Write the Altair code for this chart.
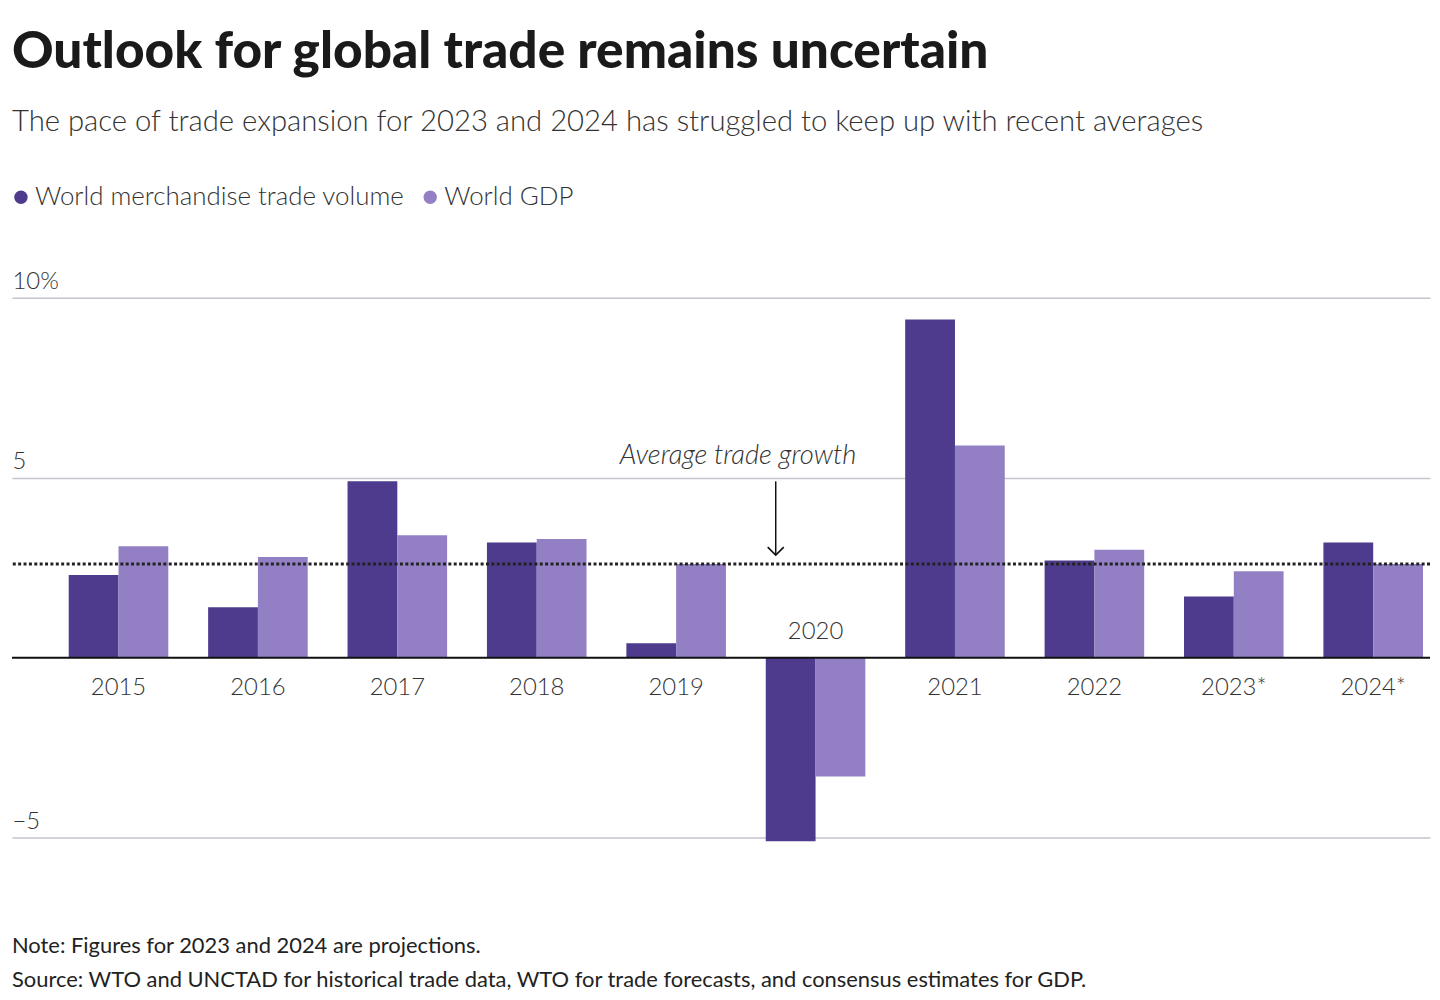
import altair as alt
import pandas as pd

# ---- data ----
years = ["2015", "2016", "2017", "2018", "2019", "2020", "2021", "2022", "2023", "2024"]
year_labels = ["2015", "2016", "2017", "2018", "2019", "2020", "2021", "2022", "2023*", "2024*"]
trade = [2.3, 1.4, 4.9, 3.2, 0.4, -5.1, 9.4, 2.7, 1.7, 3.2]
gdp = [3.1, 2.8, 3.4, 3.3, 2.6, -3.3, 5.9, 3.0, 2.4, 2.6]
series_names = ["World merchandise trade volume", "World GDP"]
series_colors = ["#4e3b8e", "#9380c4"]
avg_trade_growth = 2.6

title_text = "Outlook for global trade remains uncertain"
subtitle_text = "The pace of trade expansion for 2023 and 2024 has struggled to keep up with recent averages"
annotation_text = "Average trade growth"
note_text = "Note: Figures for 2023 and 2024 are projections."
source_text = "Source: WTO and UNCTAD for historical trade data, WTO for trade forecasts, and consensus estimates for GDP."

FONT = "Lato"
W, H = 1424, 542

rows = []
for y, t, g in zip(years, trade, gdp):
    rows.append({"year": y, "series": series_names[0], "value": t})
    rows.append({"year": y, "series": series_names[1], "value": g})
bars_df = pd.DataFrame(rows)

labels_df = pd.DataFrame({
    "year": years,
    "label": year_labels,
    "pos": [max(t, g) > 0 for t, g in zip(trade, gdp)],
})

xscale = alt.Scale(domain=years, paddingInner=0.2857, paddingOuter=0.2286, align=0.89)
yscale = alt.Scale(domain=[-5, 10], nice=False)

yaxis = alt.Axis(
    values=[-5, 5, 10], grid=True, gridColor="#c8c2cc", gridWidth=1.5,
    domain=False, ticks=False, tickSize=0, labelPadding=0,
    labelAlign="left", labelBaseline="alphabetic", labelOffset=-9,
    labelFont=FONT, labelFontSize=24, labelFontWeight=300, labelColor="#333333", title=None,
    labelExpr="datum.value == 10 ? '10%' : (datum.value < 0 ? '\u2212' + abs(datum.value) : datum.value)",
)

bars = alt.Chart(bars_df).mark_bar().encode(
    x=alt.X("year:N", scale=xscale, axis=None, sort=years),
    xOffset=alt.XOffset("series:N", sort=series_names,
                        scale=alt.Scale(domain=series_names, paddingInner=0, paddingOuter=0)),
    y=alt.Y("value:Q", scale=yscale, axis=yaxis),
    color=alt.Color("series:N", scale=alt.Scale(domain=series_names, range=series_colors),
                    legend=alt.Legend(
                        orient="none", legendX=-4, legendY=-114, direction="horizontal",
                        title=None, symbolType="circle", symbolSize=180, symbolStrokeWidth=0,
                        labelFont=FONT, labelFontSize=26, labelFontWeight=300,
                        labelColor="#333333", labelLimit=0, padding=0,
                        labelOffset=1, columnPadding=12, symbolOpacity=1)),
)

zero_df = pd.DataFrame({"v": [0]})
zero_line = alt.Chart(zero_df).mark_rule(color="#111111", strokeWidth=2).encode(
    y=alt.Y("v:Q", scale=yscale))

avg_df = pd.DataFrame({"v": [avg_trade_growth]})
avg_line = alt.Chart(avg_df).mark_rule(color="#222222", strokeWidth=3, strokeDash=[3, 2.4]).encode(
    y=alt.Y("v:Q", scale=yscale))

arrow_df = pd.DataFrame({"year": ["2020"], "y1": [4.9], "y2": [2.85], "label": [annotation_text], "ly": [5]})
arrow_line = alt.Chart(arrow_df).mark_rule(color="#111111", strokeWidth=1.5).encode(
    x=alt.X("year:N", scale=xscale, bandPosition=0.1),
    y=alt.Y("y1:Q", scale=yscale), y2="y2:Q")
arrow_head = alt.Chart(arrow_df).mark_point(
    shape="M -1 -1 L 0 0 L 1 -1", filled=False, color="#111111", strokeWidth=1.6, size=260, opacity=1
).encode(x=alt.X("year:N", scale=xscale, bandPosition=0.1), y=alt.Y("y2:Q", scale=yscale))
arrow_text = alt.Chart(arrow_df).mark_text(
    align="right", baseline="alphabetic", dy=-14, font=FONT, fontSize=27.5, fontStyle="italic",
    fontWeight=300, color="#333333"
).encode(x=alt.X("year:N", scale=xscale, bandPosition=0.91), y=alt.Y("ly:Q", scale=yscale), text="label:N")

lab_pos = alt.Chart(labels_df).transform_filter("datum.pos").transform_calculate(z="0").mark_text(
    align="center", baseline="alphabetic", dy=37, font=FONT, fontSize=24, fontWeight=300, color="#333333"
).encode(x=alt.X("year:N", scale=xscale, bandPosition=0.5), y=alt.Y("z:Q", scale=yscale), text="label:N")
lab_neg = alt.Chart(labels_df).transform_filter("!datum.pos").transform_calculate(z="0").mark_text(
    align="center", baseline="alphabetic", dy=-19, font=FONT, fontSize=24, fontWeight=300, color="#333333"
).encode(x=alt.X("year:N", scale=xscale, bandPosition=0.5), y=alt.Y("z:Q", scale=yscale), text="label:N")

text_df = pd.DataFrame({"t": [title_text], "s": [subtitle_text], "n": [note_text], "src": [source_text]})
title_mark = alt.Chart(text_df).mark_text(
    align="left", baseline="alphabetic", font=FONT, fontSize=51.6, fontWeight=900, color="#1a1a1a"
).encode(x=alt.value(0), y=alt.value(-231), text="t:N")
subtitle_mark = alt.Chart(text_df).mark_text(
    align="left", baseline="alphabetic", font=FONT, fontSize=29.4, fontWeight=300, color="#333333"
).encode(x=alt.value(0), y=alt.value(-168), text="s:N")
note_mark = alt.Chart(text_df).mark_text(
    align="left", baseline="alphabetic", font=FONT, fontSize=22, color="#222222"
).encode(x=alt.value(0), y=alt.value(658), text="n:N")
source_mark = alt.Chart(text_df).mark_text(
    align="left", baseline="alphabetic", font=FONT, fontSize=22, color="#222222"
).encode(x=alt.value(0), y=alt.value(692), text="src:N")

chart = alt.layer(
    bars, zero_line, avg_line, arrow_line, arrow_head, arrow_text, lab_pos, lab_neg,
    title_mark, subtitle_mark, note_mark, source_mark
).properties(
    width=W, height=H, padding={"left": 0, "top": 17, "right": 0, "bottom": 0},
    background="white"
).configure_view(stroke=None, strokeWidth=0)

chart.save("out.html", embed_options={"renderer": "svg", "actions": False})
